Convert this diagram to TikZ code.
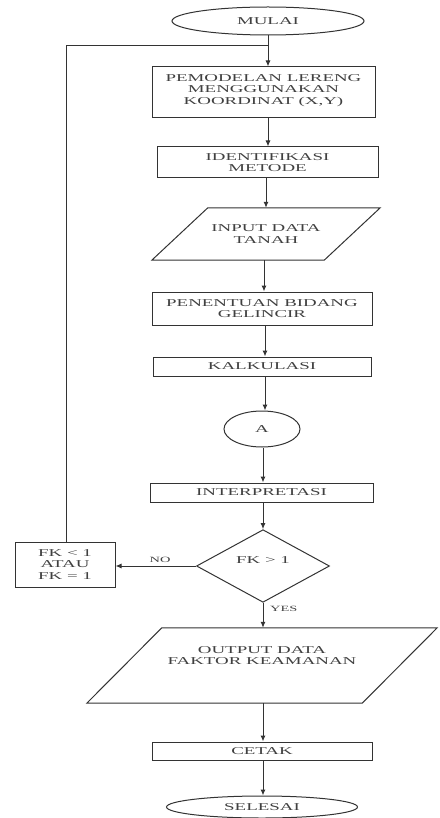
\documentclass[tikz,border=0pt]{standalone}
\usepackage{fontspec}
\setmainfont{Liberation Serif}[FakeStretch=1.8]
\usetikzlibrary{shapes.geometric,arrows.meta,calc}
\tikzset{
  ink/.style={draw=black!80, line width=1pt},
  txt/.style={text=black!75, font=\fontsize{10.5pt}{11.5pt}\selectfont, align=center, inner sep=0pt},
  procbox/.style={ink, txt, rectangle},
  termbox/.style={ink, txt, ellipse},
  decbox/.style={ink, txt, diamond},
  iobox/.style={txt, rectangle},
  arr/.style={ink, -{Latex[length=6pt,width=5pt]}},
  lbl/.style={text=black!75, font=\fontsize{8pt}{9pt}\selectfont, inner sep=0pt},
}
\begin{document}
\begin{tikzpicture}[x=1pt,y=-1pt]
\useasboundingbox (0,0) rectangle (439,818);
% nodes
\node[termbox, minimum width=192pt, minimum height=28pt] (mulai) at (268,21) {MULAI};
\node[procbox, minimum width=223pt, minimum height=51pt, text depth=6pt] (b1) at (263.5,92.5) {PEMODELAN LERENG\\MENGGUNAKAN\\KOORDINAT (X,Y)};
\node[procbox, minimum width=221pt, minimum height=31pt] (b2) at (267.5,162.5) {IDENTIFIKASI\\METODE};
\node[iobox, minimum width=172pt, minimum height=52pt] (inp) at (266,234) {INPUT DATA\\TANAH};
\node[procbox, minimum width=220pt, minimum height=33pt] (b3) at (262,308.5) {PENENTUAN BIDANG\\GELINCIR};
\node[procbox, minimum width=218pt, minimum height=19pt] (b4) at (262,366.5) {KALKULASI};
\node[termbox, minimum width=76pt, minimum height=36pt] (ca) at (262,429) {A};
\node[procbox, minimum width=223pt, minimum height=19pt] (b5) at (261.5,492.5) {INTERPRETASI};
\node[decbox, minimum width=133pt, minimum height=52pt, text depth=12pt] (dec) at (263,566) {FK > 1};
\node[procbox, minimum width=100pt, minimum height=45pt] (fk) at (65,564.5) {FK < 1\\ATAU\\FK = 1};
\node[iobox, minimum width=275pt, minimum height=75pt, text depth=20pt] (out) at (262,665.5) {OUTPUT DATA\\FAKTOR KEAMANAN};
\node[procbox, minimum width=220pt, minimum height=18pt] (b6) at (262,751) {CETAK};
\node[termbox, minimum width=191pt, minimum height=22pt] (sel) at (262,807) {SELESAI};
% parallelograms
\draw[ink] ($(inp.north west)+(28,0)$) -- ($(inp.north east)+(28,0)$) -- ($(inp.south east)+(-28,0)$) -- ($(inp.south west)+(-28,0)$) -- cycle;
\draw[ink] ($(out.north west)+(37.5,0)$) -- ($(out.north east)+(37.5,0)$) -- ($(out.south east)+(-37.5,0)$) -- ($(out.south west)+(-37.5,0)$) -- cycle;
% connectors
\coordinate (j) at (268,46);
\draw[ink] (mulai) -- (j);
\draw[arr] (j) -- (j |- b1.north);
\draw[arr] (b1.south -| j) -- (j |- b2.north);
\draw[arr] (b2.south -| inp) -- (inp.north);
\draw[arr] (inp.south -| 264,0) -- (264,0 |- b3.north);
\draw[arr] (265,0 |- b3.south) -- (265,0 |- b4.north);
\draw[arr] (265,0 |- b4.south) -- (265,0 |- ca.north);
\draw[arr] (263,0 |- ca.south) -- (263,0 |- b5.north);
\draw[arr] (263,0 |- b5.south) -- (dec.north);
\draw[arr] (dec.south) -- (dec.south |- out.north);
\draw[arr] (263,0 |- out.south) -- (263,0 |- b6.north);
\draw[arr] (263,0 |- b6.south) -- (263,0 |- sel.north);
\draw[arr] (dec.west) -- (dec.west -| fk.east);
\draw[ink] (fk.north -| 66,0) -- (66,0 |- j) -- (j);
% labels
\node[lbl, anchor=south] (no) at (160,563) {NO};
\node[lbl, anchor=west] (yes) at (270,609) {YES};
\end{tikzpicture}
\end{document}
